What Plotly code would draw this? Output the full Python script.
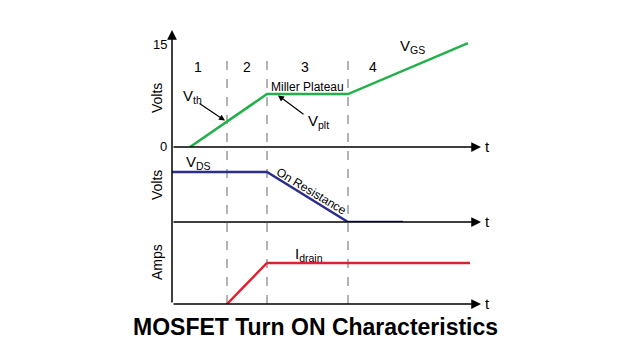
import plotly.graph_objects as go

# ---- data ----
t_vgs = [1.8, 5.5, 9.5, 17.6, 29.6]
v_gs = [0.0, 3.8, 7.8, 7.8, 15.3]
t_vds = [0.0, 9.5, 17.6, 23.1]
v_ds = [1.0, 1.0, 0.0, 0.0]
t_id = [5.5, 9.5, 29.8]
i_d = [0.0, 1.0, 1.0]
region_bounds = [5.5, 9.5, 17.6]
region_labels = ["1", "2", "3", "4"]
region_label_t = [2.6, 7.5, 13.3, 20.1]

W, H = 640, 360
def py(px):
    return 1 - px / H
def px_(p):
    return p / W

fig = go.Figure()
fig.add_trace(go.Scatter(x=t_vgs, y=v_gs, mode="lines", line=dict(color="#22b04a", width=2.5), xaxis="x", yaxis="y"))
fig.add_trace(go.Scatter(x=t_vds, y=v_ds, mode="lines", line=dict(color="#2b2f8c", width=2.5), xaxis="x2", yaxis="y2"))
fig.add_trace(go.Scatter(x=t_id, y=i_d, mode="lines", line=dict(color="#e0202e", width=2.5), xaxis="x3", yaxis="y3"))

xdom = [172 / W, 482 / W]
ax_common = dict(range=[0, 31], visible=False, showgrid=False, zeroline=False)
fig.update_layout(
    width=W, height=H, margin=dict(l=0, r=0, t=0, b=0),
    paper_bgcolor="white", plot_bgcolor="rgba(0,0,0,0)", showlegend=False,
    font=dict(family="Liberation Sans, Arial, sans-serif", color="black"),
    xaxis=dict(domain=xdom, anchor="y", **ax_common),
    xaxis2=dict(domain=xdom, anchor="y2", **ax_common),
    xaxis3=dict(domain=xdom, anchor="y3", **ax_common),
    yaxis=dict(domain=[py(147), py(35)], range=[0, 16.5], visible=False, anchor="x"),
    yaxis2=dict(domain=[py(222), py(147)], range=[0, 1.5], visible=False, anchor="x2"),
    yaxis3=dict(domain=[py(304), py(222)], range=[0, 2.0], visible=False, anchor="x3"),
)

shapes = []
for b in region_bounds:
    shapes.append(dict(type="line", xref="x", yref="paper", x0=b, x1=b, y0=py(304), y1=py(53),
                       line=dict(color="#9a9a9a", width=1.5, dash="dash"), layer="below"))
fig.update_layout(shapes=shapes)

ann = []
arrow_style = dict(showarrow=True, arrowhead=2, arrowsize=1.3, arrowwidth=1.5, arrowcolor="black", text="")
def txt(x, y, text, size=14, xref="paper", yref="paper", xanchor="center", **kw):
    return dict(x=x, y=y, xref=xref, yref=yref, text=text, showarrow=False,
                xanchor=xanchor, yanchor="middle", font=dict(size=size), **kw)

# vertical axis with arrow
ann.append(dict(x=0, y=py(30), xref="x", yref="paper", ax=0, ay=274, axref="pixel", ayref="pixel", **arrow_style))
# horizontal axes with arrows + 't'
for xa, ya, ypx in [("x", "y", 147), ("x2", "y2", 222), ("x3", "y3", 304)]:
    ann.append(dict(x=30.9, y=0, xref=xa, yref=ya, ax=0, ay=0, axref=xa, ayref=ya, **arrow_style))
    ann.append(txt(px_(487), py(ypx - 1), "t", size=15))

# tick labels panel 1
ann.append(txt(px_(163), py(146), "0", size=13))
ann.append(txt(px_(160), py(44), "15", size=13))

# y-axis titles
for t_, ypx in [("Volts", 98), ("Volts", 185), ("Amps", 262)]:
    ann.append(txt(px_(157), py(ypx), t_, size=14, textangle=-90))

# region numbers
for lab, tx in zip(region_labels, region_label_t):
    ann.append(txt(tx, py(67), lab, size=14, xref="x"))

# curve labels
ann.append(txt(px_(412), py(47), "V<sub>GS</sub>", size=15))
ann.append(txt(px_(307), py(87), "Miller Plateau", size=12))
# Vth label with arrow
ann.append(dict(x=5.3, y=3.9, xref="x", yref="y", ax=-27, ay=-18, axref="pixel", ayref="pixel",
                showarrow=True, arrowhead=2, arrowsize=1, arrowwidth=1.2, arrowcolor="black",
                text="", standoff=0))
ann.append(txt(px_(192), py(97), "V<sub>th</sub>", size=15))
# Vplt label with arrow
ann.append(dict(x=10.6, y=7.6, xref="x", yref="y", ax=27, ay=20, axref="pixel", ayref="pixel",
                showarrow=True, arrowhead=2, arrowsize=1, arrowwidth=1.2, arrowcolor="black",
                text="", standoff=0))
ann.append(txt(px_(318), py(121), "V<sub>plt</sub>", size=15))
# VDS
ann.append(txt(px_(198), py(163), "V<sub>DS</sub>", size=15))
ann.append(txt(px_(311), py(191), "On Resistance", size=12, textangle=31))
# Idrain
ann.append(txt(px_(309), py(254), "I<sub>drain</sub>", size=15))
# title
ann.append(txt(px_(315), py(327), "<b>MOSFET Turn ON Characteristics</b>", size=23))

fig.update_layout(annotations=ann)
fig.write_html("out.html")
